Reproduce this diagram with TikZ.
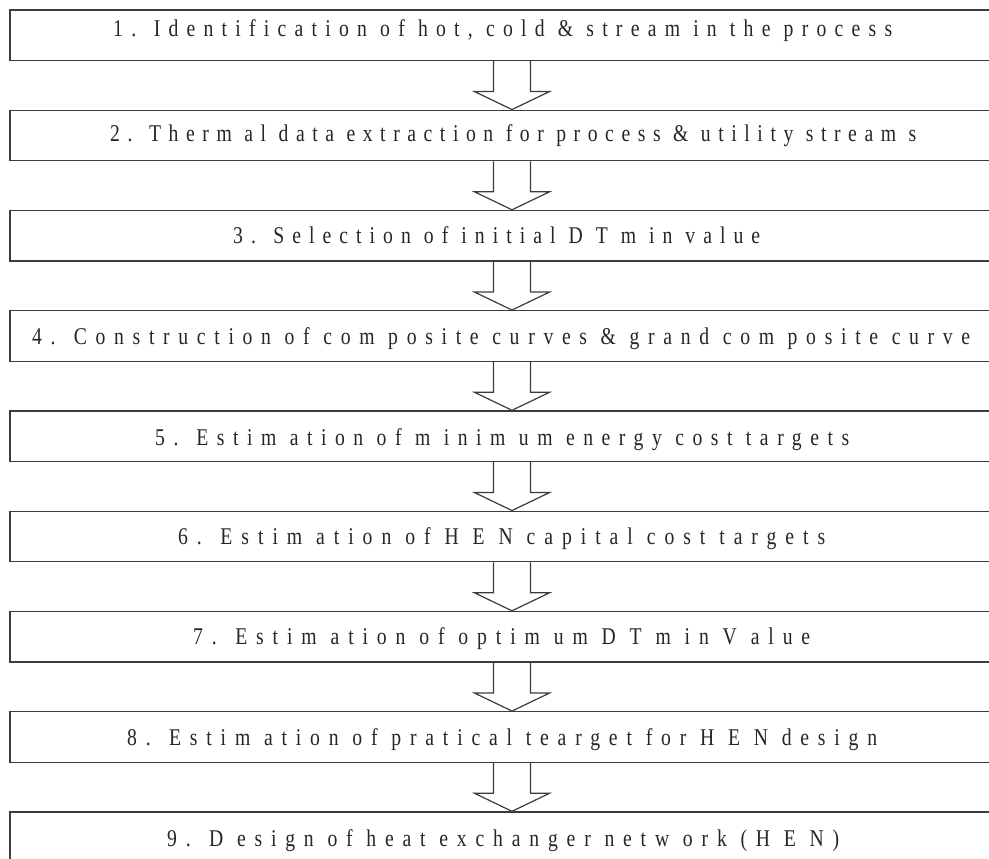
\documentclass[tikz,border=0pt]{standalone}
\usepackage{fontspec}
\setmainfont{Liberation Serif}
\newfontfamily\stagefont[FakeStretch=0.82]{Liberation Serif}
\usetikzlibrary{calc}

\definecolor{inkline}{HTML}{3C3C3C}
\definecolor{inktext}{HTML}{262626}

% Set #2 with letter tracking chosen so that its width is #1 pt
\newsavebox\plainbox
\newsavebox\widebox
\newcommand\spreadto[2]{%
  \sbox\plainbox{#2}%
  \sbox\widebox{\addfontfeature{LetterSpace=40}#2}%
  \pgfmathsetmacro\trackamt{(#1-\wd\plainbox)/(\wd\widebox-\wd\plainbox)*40}%
  \edef\dotrack{\noexpand\addfontfeature{LetterSpace=\trackamt}}%
  \dotrack #2}

\tikzset{
  stagebox/.style={draw=inkline, line width=1.4pt, minimum width=1004pt,
    minimum height=50.5pt, inner sep=0pt, fill=white},
  stagetext/.style={anchor=base west, inner sep=0pt, text=inktext,
    font=\stagefont\fontsize{24}{28}\selectfont},
  arrowline/.style={draw=inkline, line width=1.2pt, line join=miter},
}

% Hollow block arrow from the bottom of one box to the top of the next
\newcommand\hollowarrow[2]{%
  \draw[arrowline] ($(#1.south)+(-18.5,0)$) -- ($(#2.north)+(-18.5,18)$)
    -- ($(#2.north)+(-37.5,18)$) -- (#2.north) -- ($(#2.north)+(37.5,18)$)
    -- ($(#2.north)+(18.5,18)$) -- ($(#1.south)+(18.5,0)$);}

\begin{document}
\begin{tikzpicture}[x=1pt,y=1pt]
\useasboundingbox (0,0) rectangle (989,-859);
\fill[white] (0,0) rectangle (989,-859);
\clip (0,0) rectangle (989,-859);

% stage boxes
\node[stagebox] (s1) at (512,-35.25) {};
\node[stagebox] (s2) at (512,-135.5) {};
\node[stagebox] (s3) at (512,-235.75) {};
\node[stagebox] (s4) at (512,-336) {};
\node[stagebox] (s5) at (512,-436.25) {};
\node[stagebox] (s6) at (512,-536.5) {};
\node[stagebox] (s7) at (512,-636.75) {};
\node[stagebox] (s8) at (512,-737) {};
\node[stagebox] (s9) at (512,-837.25) {};

% stage labels
\node[stagetext] (t1) at (113,-37) {\spreadto{779}{1. Identification of hot, cold \& stream in the process}};
\node[stagetext] (t2) at (110,-141) {\spreadto{806}{2. Therm al data extraction for process \& utility stream s}};
\node[stagetext] (t3) at (233,-243.5) {\spreadto{527}{3. Selection of initial D T m in value}};
\node[stagetext] (t4) at (32,-344) {\spreadto{938}{4. Construction of com posite curves \& grand com posite curve}};
\node[stagetext] (t5) at (155,-445.5) {\spreadto{694}{5. Estim ation of m inim um energy cost targets}};
\node[stagetext] (t6) at (178,-544.5) {\spreadto{647}{6. Estim ation of H E N capital cost targets}};
\node[stagetext] (t7) at (193,-644.75) {\spreadto{617}{7. Estim ation of optim um D T m in V alue}};
\node[stagetext] (t8) at (127,-745) {\spreadto{750}{8. Estim ation of pratical tearget for H E N design}};
\node[stagetext] (t9) at (167,-846) {\spreadto{672}{9. D esign of heat exchanger netw ork (H E N)}};

% arrows between consecutive stages
\foreach \a/\b in {s1/s2,s2/s3,s3/s4,s4/s5,s5/s6,s6/s7,s7/s8,s8/s9}
  \hollowarrow{\a}{\b};
\end{tikzpicture}
\end{document}
